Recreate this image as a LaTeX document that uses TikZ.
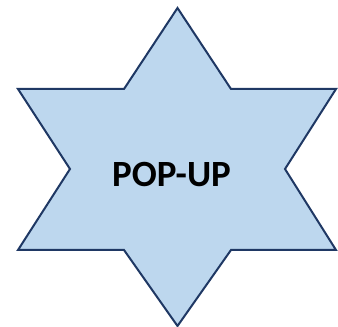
\documentclass[tikz,border=0pt]{standalone}
\usepackage{fontspec}
\setmainfont{Carlito}
\usepackage{tikz}
\usetikzlibrary{positioning}
\definecolor{starfill}{RGB}{189,215,238}
\definecolor{staredge}{RGB}{31,56,100}

\begin{document}
\begin{tikzpicture}[x=1pt,y=1pt, star/.style={draw=staredge,fill=starfill,line width=2pt,line join=miter}, label/.style={font=\fontsize{37}{42}\selectfont\bfseries,inner sep=0pt}]
\useasboundingbox (0,0) rectangle (338,327);
\draw[star] (177.5,319) -- (231,238) -- (336,238) -- (285,158) -- (336,77) -- (231,77) -- (177.5,1) -- (124,77) -- (18,77) -- (70,158) -- (18,238) -- (124,238) -- cycle;
\node[label] (txt) at (171.5,152) {POP-UP};
\end{tikzpicture}
\end{document}
